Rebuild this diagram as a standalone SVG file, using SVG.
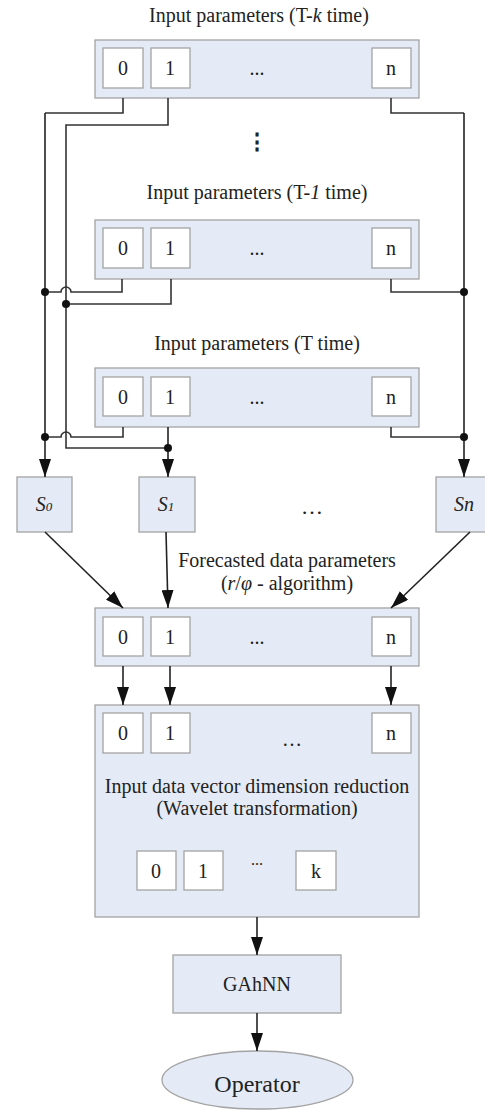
<svg xmlns="http://www.w3.org/2000/svg" width="485" height="1111" viewBox="0 0 485 1111">
<style>
text{font-family:"Liberation Serif","Times New Roman",serif;font-size:20px;fill:#222;text-anchor:middle}
.box{fill:#e4ebf6;stroke:#a3a3a3;stroke-width:1.3}
.cell{fill:#fff;stroke:#a3a3a3;stroke-width:1.3}
.w{fill:none;stroke:#333;stroke-width:1.6}
.a{fill:none;stroke:#222;stroke-width:1.6;marker-end:url(#arr)}
.dot{fill:#111}
.it{font-style:italic}
</style>
<defs>
<marker id="arr" markerUnits="userSpaceOnUse" markerWidth="18" markerHeight="12" viewBox="0 0 18 12" refX="18" refY="6" orient="auto">
<path d="M0,0 L18,6 L0,12 Z" fill="#111"/>
</marker>
</defs>
<text x="259" y="22">Input parameters (T-<tspan class="it">k</tspan> time)</text>
<g id="inputs-tk">
<rect class="box" x="95" y="40" width="324" height="58"/>
<rect class="cell" x="103" y="48" width="40" height="40"/><text x="123" y="75">0</text>
<rect class="cell" x="151" y="48" width="39" height="40"/><text x="170" y="75">1</text>
<text x="257" y="75">...</text>
<rect class="cell" x="372" y="48" width="39" height="40"/><text x="391" y="75">n</text>
</g>
<text x="257" y="149" style="font-size:22px;font-weight:bold">⋮</text>
<text x="257" y="199">Input parameters (T-<tspan class="it">1</tspan> time)</text>
<g id="inputs-t1">
<rect class="box" x="95" y="220" width="324" height="59"/>
<rect class="cell" x="103" y="228" width="40" height="40"/><text x="123" y="255">0</text>
<rect class="cell" x="151" y="228" width="39" height="40"/><text x="170" y="255">1</text>
<text x="257" y="255">...</text>
<rect class="cell" x="372" y="228" width="39" height="40"/><text x="391" y="255">n</text>
</g>
<text x="257" y="350">Input parameters (T time)</text>
<g id="inputs-t">
<rect class="box" x="95" y="368" width="324" height="59"/>
<rect class="cell" x="103" y="377" width="40" height="39"/><text x="123" y="404">0</text>
<rect class="cell" x="151" y="377" width="39" height="39"/><text x="170" y="404">1</text>
<text x="257" y="404">...</text>
<rect class="cell" x="372" y="377" width="39" height="39"/><text x="391" y="404">n</text>
</g>
<g id="s0"><rect class="box" x="17" y="477" width="55" height="55"/><text x="44" y="511" class="it">S<tspan style="font-size:13px">0</tspan></text></g>
<g id="s1"><rect class="box" x="139" y="477" width="56" height="55"/><text x="166" y="511" class="it">S<tspan style="font-size:13px">1</tspan></text></g>
<text x="312" y="514" style="font-size:22px">…</text>
<g id="sn"><rect class="box" x="436" y="477" width="56" height="55"/><text x="464" y="511" class="it">Sn</text></g>
<text x="287" y="567">Forecasted data parameters</text>
<text x="287" y="590">(<tspan class="it">r</tspan>/<tspan class="it">φ</tspan> - algorithm)</text>
<g id="forecast">
<rect class="box" x="95" y="608" width="324" height="58"/>
<rect class="cell" x="103" y="617" width="40" height="39"/><text x="123" y="644">0</text>
<rect class="cell" x="151" y="617" width="39" height="39"/><text x="170" y="644">1</text>
<text x="257" y="644">...</text>
<rect class="cell" x="372" y="617" width="39" height="39"/><text x="391" y="644">n</text>
</g>
<g id="wavelet">
<rect class="box" x="95" y="705" width="324" height="212"/>
<rect class="cell" x="103" y="713" width="40" height="40"/><text x="123" y="740">0</text>
<rect class="cell" x="151" y="713" width="39" height="40"/><text x="170" y="740">1</text>
<text x="292" y="746">…</text>
<rect class="cell" x="372" y="713" width="39" height="40"/><text x="391" y="740">n</text>
<text x="257" y="793">Input data vector dimension reduction</text>
<text x="257" y="815">(Wavelet transformation)</text>
<rect class="cell" x="137" y="851" width="39" height="39"/><text x="156" y="878">0</text>
<rect class="cell" x="184" y="851" width="39" height="39"/><text x="203" y="878">1</text>
<text x="257" y="865" style="font-size:16px">...</text>
<rect class="cell" x="296" y="851" width="40" height="39"/><text x="316" y="878">k</text>
</g>
<g id="gahnn"><rect class="box" x="173" y="955" width="168" height="58"/><text x="257" y="991">GAhNN</text></g>
<g id="operator"><ellipse class="box" cx="257.5" cy="1080" rx="95.5" ry="29"/><text x="257" y="1092" style="font-size:24px">Operator</text></g>
<g id="connectors">
<path class="w" d="M123,98 V113 H45"/>
<path class="a" d="M45,113 V477"/>
<path class="w" d="M168,98 V125 H66 V448 H168"/>
<path class="w" d="M391,98 V113 H464"/>
<path class="a" d="M464,113 V477"/>
<path class="w" d="M122,279 V292 H71 A5,5 0 0 0 61,292 H45"/>
<path class="w" d="M171,279 V304 H66"/>
<path class="w" d="M391,279 V292 H464"/>
<path class="w" d="M123,427 V437 H71 A5,5 0 0 0 61,437 H45"/>
<path class="a" d="M168,427 V477"/>
<path class="w" d="M391,427 V437 H464"/>
<circle class="dot" cx="45" cy="292" r="4"/>
<circle class="dot" cx="66" cy="304" r="4"/>
<circle class="dot" cx="464" cy="292" r="4"/>
<circle class="dot" cx="45" cy="437" r="4"/>
<circle class="dot" cx="168" cy="448" r="4"/>
<circle class="dot" cx="464" cy="437" r="4"/>
<path class="a" d="M45,532 L123,608"/>
<path class="a" d="M166,532 L168,608"/>
<path class="a" d="M470,532 L391,608"/>
<path class="a" d="M123,666 V705"/>
<path class="a" d="M170,666 V705"/>
<path class="a" d="M391,666 V705"/>
<path class="a" d="M257,917 V955"/>
<path class="a" d="M257,1013 V1051"/>
</g>
</svg>
